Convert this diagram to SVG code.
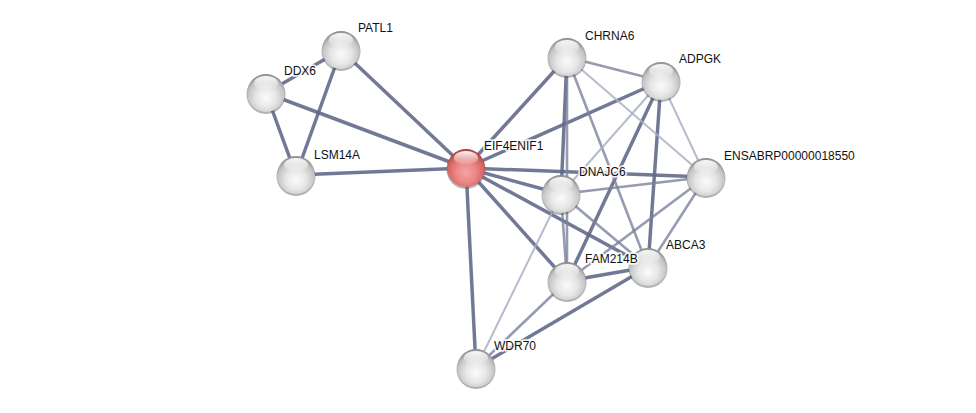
<svg xmlns="http://www.w3.org/2000/svg" width="976" height="413" viewBox="0 0 976 413">
<style>
.e1{stroke:#5f6787;stroke-width:3.5;stroke-opacity:0.88;fill:none}
.e2{stroke:#7a829e;stroke-width:2.6;stroke-opacity:0.8;fill:none}
.e3{stroke:#a9afc4;stroke-width:2;stroke-opacity:0.85;fill:none}
.lbl{font-family:"Liberation Sans",Arial,sans-serif;font-size:12px;fill:#111;stroke:#fff;stroke-width:3.5;stroke-opacity:0.85;paint-order:stroke;stroke-linejoin:round}
.sh{fill:#555;fill-opacity:0.45}
.g{fill:url(#gray)}
.r{fill:url(#red)}
.hl{fill:url(#hl)}
</style>
<defs>
<radialGradient id="gray" cx="0.5" cy="0.62" r="0.6">
<stop offset="0" stop-color="#fbfbfb"/>
<stop offset="0.45" stop-color="#e6e6e6"/>
<stop offset="0.8" stop-color="#c4c4c4"/>
<stop offset="1" stop-color="#8f8f8f"/>
</radialGradient>
<radialGradient id="red" cx="0.5" cy="0.62" r="0.6">
<stop offset="0" stop-color="#f6a4a4"/>
<stop offset="0.45" stop-color="#ec8686"/>
<stop offset="0.8" stop-color="#d46262"/>
<stop offset="1" stop-color="#a84040"/>
</radialGradient>
<linearGradient id="hl" x1="0" y1="0" x2="0" y2="1">
<stop offset="0" stop-color="#fff" stop-opacity="0.95"/>
<stop offset="1" stop-color="#fff" stop-opacity="0.05"/>
</linearGradient>
</defs>
<rect width="976" height="413" fill="#fff"/>
<g id="edges">
<line class="e1" x1="341" y1="50" x2="266" y2="93"/>
<line class="e1" x1="341" y1="50" x2="296" y2="175"/>
<line class="e1" x1="341" y1="50" x2="466" y2="168"/>
<line class="e1" x1="266" y1="93" x2="296" y2="175"/>
<line class="e1" x1="266" y1="93" x2="466" y2="168"/>
<line class="e1" x1="296" y1="175" x2="466" y2="168"/>
<line class="e1" x1="466" y1="168" x2="567" y2="57"/>
<line class="e1" x1="466" y1="168" x2="661" y2="81"/>
<line class="e1" x1="466" y1="168" x2="706" y2="177"/>
<line class="e1" x1="466" y1="168" x2="561" y2="194"/>
<line class="e1" x1="466" y1="168" x2="567" y2="281"/>
<line class="e1" x1="466" y1="168" x2="648" y2="267"/>
<line class="e1" x1="466" y1="168" x2="476" y2="368"/>
<line class="e1" x1="567" y1="57" x2="561" y2="194"/>
<line class="e1" x1="661" y1="81" x2="567" y2="281"/>
<line class="e1" x1="661" y1="81" x2="648" y2="267"/>
<line class="e1" x1="567" y1="281" x2="648" y2="267"/>
<line class="e1" x1="648" y1="267" x2="476" y2="368"/>
<line class="e2" x1="567" y1="57" x2="661" y2="81"/>
<line class="e2" x1="567" y1="57" x2="648" y2="267"/>
<line class="e2" x1="567" y1="57" x2="567" y2="281"/>
<line class="e2" x1="706" y1="177" x2="561" y2="194"/>
<line class="e2" x1="706" y1="177" x2="648" y2="267"/>
<line class="e2" x1="706" y1="177" x2="567" y2="281"/>
<line class="e2" x1="561" y1="194" x2="567" y2="281"/>
<line class="e2" x1="561" y1="194" x2="648" y2="267"/>
<line class="e2" x1="567" y1="281" x2="476" y2="368"/>
<line class="e3" x1="567" y1="57" x2="706" y2="177"/>
<line class="e3" x1="661" y1="81" x2="706" y2="177"/>
<line class="e3" x1="661" y1="81" x2="561" y2="194"/>
<line class="e3" x1="561" y1="194" x2="476" y2="368"/>
</g>
<g id="node-PATL1">
<circle class="sh" cx="341" cy="51.5" r="19.5"/>
<circle class="g" cx="341" cy="50" r="19"/>
<ellipse class="hl" cx="341" cy="40" rx="12" ry="7"/>
<text class="lbl" x="358" y="32">PATL1</text>
</g>
<g id="node-DDX6">
<circle class="sh" cx="266" cy="94.5" r="19.5"/>
<circle class="g" cx="266" cy="93" r="19"/>
<ellipse class="hl" cx="266" cy="83" rx="12" ry="7"/>
<text class="lbl" x="284" y="75">DDX6</text>
</g>
<g id="node-LSM14A">
<circle class="sh" cx="296" cy="176.5" r="19.5"/>
<circle class="g" cx="296" cy="175" r="19"/>
<ellipse class="hl" cx="296" cy="165" rx="12" ry="7"/>
<text class="lbl" x="314" y="159">LSM14A</text>
</g>
<g id="node-EIF4ENIF1">
<circle class="sh" cx="466" cy="169.5" r="19.5"/>
<circle class="r" cx="466" cy="168" r="19"/>
<ellipse class="hl" cx="466" cy="158" rx="12" ry="7"/>
<text class="lbl" x="484" y="150">EIF4ENIF1</text>
</g>
<g id="node-CHRNA6">
<circle class="sh" cx="567" cy="58.5" r="19.5"/>
<circle class="g" cx="567" cy="57" r="19"/>
<ellipse class="hl" cx="567" cy="47" rx="12" ry="7"/>
<text class="lbl" x="585" y="40">CHRNA6</text>
</g>
<g id="node-ADPGK">
<circle class="sh" cx="661" cy="82.5" r="19.5"/>
<circle class="g" cx="661" cy="81" r="19"/>
<ellipse class="hl" cx="661" cy="71" rx="12" ry="7"/>
<text class="lbl" x="679" y="63">ADPGK</text>
</g>
<g id="node-ENSABRP00000018550">
<circle class="sh" cx="706" cy="178.5" r="19.5"/>
<circle class="g" cx="706" cy="177" r="19"/>
<ellipse class="hl" cx="706" cy="167" rx="12" ry="7"/>
<text class="lbl" x="724" y="160">ENSABRP00000018550</text>
</g>
<g id="node-DNAJC6">
<circle class="sh" cx="561" cy="195.5" r="19.5"/>
<circle class="g" cx="561" cy="194" r="19"/>
<ellipse class="hl" cx="561" cy="184" rx="12" ry="7"/>
<text class="lbl" x="579" y="176">DNAJC6</text>
</g>
<g id="node-ABCA3">
<circle class="sh" cx="648" cy="268.5" r="19.5"/>
<circle class="g" cx="648" cy="267" r="19"/>
<ellipse class="hl" cx="648" cy="257" rx="12" ry="7"/>
<text class="lbl" x="666" y="249">ABCA3</text>
</g>
<g id="node-FAM214B">
<circle class="sh" cx="567" cy="282.5" r="19.5"/>
<circle class="g" cx="567" cy="281" r="19"/>
<ellipse class="hl" cx="567" cy="271" rx="12" ry="7"/>
<text class="lbl" x="585" y="263">FAM214B</text>
</g>
<g id="node-WDR70">
<circle class="sh" cx="476" cy="369.5" r="19.5"/>
<circle class="g" cx="476" cy="368" r="19"/>
<ellipse class="hl" cx="476" cy="358" rx="12" ry="7"/>
<text class="lbl" x="494" y="350">WDR70</text>
</g>
</svg>
